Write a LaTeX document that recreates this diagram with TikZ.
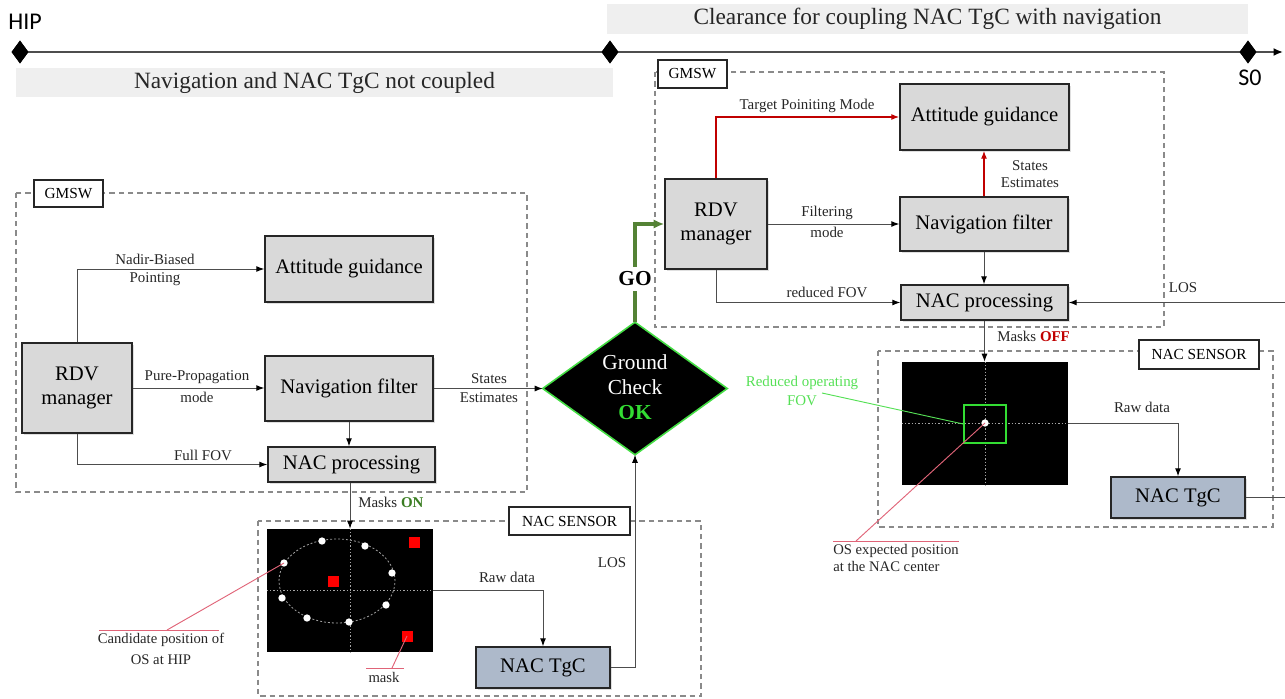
\documentclass[tikz,border=0pt]{standalone}
\usepackage{fontspec}
\setmainfont{Liberation Serif}
\newfontfamily\tlfont{Carlito}
\usetikzlibrary{arrows.meta,shapes.geometric,shadows,calc}

\definecolor{boxgray}{HTML}{D9D9D9}
\definecolor{boxedge}{HTML}{262626}
\definecolor{tgcblue}{HTML}{ADB9CA}
\definecolor{linegray}{HTML}{4D4D4D}
\definecolor{txtgray}{HTML}{262626}
\definecolor{barfill}{HTML}{EFEFEF}
\definecolor{zonegray}{HTML}{8A8A8A}
\definecolor{modered}{HTML}{C00000}
\definecolor{gogreen}{HTML}{548235}
\definecolor{okgreen}{HTML}{33DD33}
\definecolor{ongreen}{HTML}{3A7D22}
\definecolor{fovgreen}{HTML}{55E055}
\definecolor{ptrred}{HTML}{E06478}
\definecolor{diamedge}{HTML}{44DD44}
\definecolor{maskred}{HTML}{FF0000}

\begin{document}
\begin{tikzpicture}[x=0.75pt, y=-0.75pt,
  blk/.style={draw=boxedge, line width=1.1pt, fill=boxgray, inner sep=0pt,
    align=center, font=\fontsize{15.5}{17.5}\selectfont,
    drop shadow={shadow xshift=1.2pt, shadow yshift=-1.5pt, opacity=0.25}},
  tgcbox/.style={blk, fill=tgcblue},
  tag/.style={draw=boxedge, line width=0.8pt, fill=white, inner sep=0pt,
    font=\fontsize{11.5}{14}\selectfont},
  zone/.style={draw=zonegray, line width=0.8pt, dash pattern=on 4pt off 3pt},
  bar/.style={fill=barfill, inner sep=0pt, font=\fontsize{17.5}{20}\selectfont, text=txtgray},
  conn/.style={draw=linegray, line width=0.75pt, -{Latex[length=6pt,width=4.5pt,color=black]}},
  plain/.style={draw=linegray, line width=0.75pt},
  redconn/.style={draw=modered, line width=0.9pt, -{Latex[length=6pt,width=4.5pt]}},
  goconn/.style={draw=gogreen, line width=2.3pt, -{Latex[length=8pt,width=7pt]}},
  lbl/.style={font=\fontsize{11.2}{14}\selectfont, align=center, inner sep=0pt, text=txtgray},
  ptr/.style={draw=ptrred, line width=0.7pt},
  tick/.style={diamond, fill=black, inner sep=0pt, minimum width=12.75pt, minimum height=17.25pt},
  cross/.style={draw=gray!70, line width=0.5pt, dash pattern=on 1pt off 1.5pt},
  dotw/.style={circle, fill=white, inner sep=0pt, minimum size=5.5pt},
  sq/.style={fill=maskred, inner sep=0pt, minimum size=8.25pt},
  sensorimg/.style={fill=black, inner sep=0pt, minimum width=124.5pt, minimum height=92.25pt},
]
\useasboundingbox (0,0) rectangle (1285,699);

% ---------- time line ----------
\node[bar, minimum width=480.75pt, minimum height=22.5pt] (barR) at (927.5,19) {Clearance for coupling NAC TgC with navigation};
\node[bar, minimum width=447.75pt, minimum height=21.75pt] (barL) at (314.5,82.5) {Navigation and NAC TgC not coupled};
\coordinate (tlEnd) at (1283,52);
\node[tick] (tkA) at (20,52) {};
\node[tick] (tkB) at (610,52) {};
\node[tick] (tkC) at (1248,52) {};
\draw[draw=linegray, line width=1.5pt, -{Latex[length=7pt,width=6pt,color=black]}] (tkA.center) -- (tlEnd);
\node[tick] at (20,52) {};
\node[tick] at (610,52) {};
\node[tick] at (1248,52) {};
\node[font=\tlfont\fontsize{18}{20}\selectfont] (hip) at (25,22) {HIP};
\node[font=\tlfont\fontsize{18}{20}\selectfont] (szero) at (1250,78) {S0};

% ---------- dashed zones ----------
\draw[zone] (16,193) rectangle (527,492);
\draw[zone] (655,72) rectangle (1164,327);
\draw[zone] (258,521) rectangle (701,696);
\draw[zone] (878,351) rectangle (1273,527);
\node[tag, minimum width=51.75pt, minimum height=20.25pt] (gmswL) at (68.5,193.5) {GMSW};
\node[tag, minimum width=51.75pt, minimum height=21pt] (gmswR) at (692.5,74) {GMSW};
\node[tag, minimum width=90.75pt, minimum height=21pt] (sensL) at (569.5,521) {NAC SENSOR};
\node[tag, minimum width=90pt, minimum height=21.75pt] (sensR) at (1199,354.5) {NAC SENSOR};

% ---------- left software blocks ----------
\node[blk, minimum width=126pt, minimum height=49.5pt] (agL) at (349,269) {Attitude guidance};
\node[blk, minimum width=82.5pt, minimum height=67.5pt] (rdvL) at (77,388) {RDV\\manager};
\node[blk, minimum width=126pt, minimum height=48.75pt] (nfL) at (349,388.5) {Navigation filter};
\node[blk, minimum width=125.25pt, minimum height=26.25pt] (npL) at (351.5,464.5) {NAC processing};

\draw[conn] (rdvL.north) |- (agL.west);
\draw[conn] (rdvL.east) -- (rdvL.east -| nfL.west);
\draw[conn] (rdvL.south) |- (npL.west);
\draw[conn] (nfL.south) -- (nfL.south |- npL.north);

\node[lbl, anchor=south] at (155,265) {Nadir-Biased};
\node[lbl, anchor=north] at (155,272) {Pointing};
\node[lbl, anchor=south] at (197,384) {Pure-Propagation};
\node[lbl, anchor=north] at (197,392) {mode};
\node[lbl] at (203,455) {Full FOV};

% ---------- right software blocks ----------
\node[blk, minimum width=126.75pt, minimum height=49.5pt] (agR) at (984.5,117) {Attitude guidance};
\node[blk, minimum width=76.5pt, minimum height=67.5pt] (rdvR) at (716,224) {RDV\\manager};
\node[blk, minimum width=126pt, minimum height=40.5pt] (nfR) at (984,224) {Navigation filter};
\node[blk, minimum width=125.25pt, minimum height=26.25pt] (npR) at (984.5,302.5) {NAC processing};

\draw[redconn] (rdvR.north) |- (agR.west);
\draw[redconn] (nfR.north) -- (nfR.north |- agR.south);
\draw[conn] (rdvR.east) -- (rdvR.east -| nfR.west);
\draw[conn] (rdvR.south) |- (npR.west);
\draw[conn] (nfR.south) -- (nfR.south |- npR.north);
\coordinate (losR) at (1285,302.5);
\draw[conn] (losR) -- (npR.east);

\node[lbl] at (807,106) {Target Poiniting Mode};
\node[lbl, anchor=south] at (1030,171) {States};
\node[lbl, anchor=north] at (1030,177) {Estimates};
\node[lbl, anchor=south] at (827,220) {Filtering};
\node[lbl, anchor=north] at (827,227) {mode};
\node[lbl] at (827,292) {reduced FOV};
\node[lbl] at (1183,288) {LOS};

% ---------- ground check ----------
\node[minimum width=138pt, minimum height=99pt, inner sep=0pt] (gc) at (635,388.5) {};
\draw[draw=diamedge, line width=1.2pt, fill=black] (gc.west) -- (gc.north) -- (gc.east) -- (gc.south) -- cycle;
\node[align=center, text=white, font=\fontsize{16}{18.75}\selectfont] (gctxt) at (635,387)
  {Ground\\Check\\\textcolor{okgreen}{\textbf{OK}}};
\draw[conn] (nfL.east) -- (gc.west);
\node[lbl, anchor=south] at (489,384) {States};
\node[lbl, anchor=north] at (489,392) {Estimates};

\draw[goconn] (gc.north) |- (rdvR.west);
\node[fill=white, inner xsep=0.5pt, inner ysep=3.6pt, font=\fontsize{16}{18}\selectfont\bfseries] (go) at (635,279) {GO};

% ---------- left sensor ----------
\node[sensorimg] (imgL) at (350,590.5) {};
\draw[cross] (imgL.north) -- (imgL.south);
\draw[cross] (imgL.west) -- (imgL.east);
\draw[draw=gray!75, line width=0.6pt, dash pattern=on 1.5pt off 1.5pt] (337,581) ellipse [x radius=43.5pt, y radius=31.5pt];
\node[dotw] (c1) at (284,563) {};
\node[dotw] (c2) at (322,541) {};
\node[dotw] (c3) at (365,546) {};
\node[dotw] (c4) at (392,573) {};
\node[dotw] (c5) at (386,605) {};
\node[dotw] (c6) at (349,622) {};
\node[dotw] (c7) at (307,618) {};
\node[dotw] (c8) at (282,598) {};
\node[sq] (m1) at (414,542) {};
\node[sq] (m2) at (333,581) {};
\node[sq] (m3) at (407,636) {};

\draw[conn] (npL.south -| imgL.north) -- (imgL.north);
\node[lbl, anchor=west] at (358,502) {Masks \textcolor{ongreen}{\textbf{ON}}};

\node[tgcbox, minimum width=100.5pt, minimum height=30.75pt] (tgcL) at (543,667.5) {NAC TgC};
\draw[conn] (imgL.east) -| (tgcL.north);
\node[lbl] at (507,577) {Raw data};
\draw[conn] (tgcL.east) -| (gc.south);
\node[lbl] at (612,563) {LOS};

\coordinate (candK) at (167,630);
\coordinate (candA) at (99,630);
\coordinate (candB) at (219,630);
\draw[ptr] (c1.center) -- (candK);
\draw[ptr] (candA) -- (candB);
\node[lbl, font=\fontsize{11}{16}\selectfont] at (161,649) {Candidate position of\\OS at HIP};

\coordinate (maskK) at (392,668);
\coordinate (maskA) at (366,668);
\coordinate (maskB) at (404,668);
\draw[ptr] (m3.center) -- (maskK);
\draw[ptr] (maskA) -- (maskB);
\node[lbl, font=\fontsize{11}{14}\selectfont] at (384,677) {mask};

% ---------- right sensor ----------
\node[sensorimg] (imgR) at (985,423.5) {};
\draw[cross] (imgR.north) -- (imgR.south);
\draw[cross] (imgR.west) -- (imgR.east);
\node[draw=okgreen, line width=1.3pt, inner sep=0pt, minimum width=31.5pt, minimum height=28.5pt] (fovR) at (985,424) {};
\node[dotw] (osR) at (985,423) {};

\draw[conn] (npR.south) -- (npR.south |- imgR.north);
\node[lbl, anchor=west] at (997,336) {Masks \textcolor{modered}{\textbf{OFF}}};

\node[tgcbox, minimum width=100.5pt, minimum height=30.75pt] (tgcR) at (1178,497.5) {NAC TgC};
\draw[conn] (imgR.east) -| (tgcR.north);
\node[lbl] at (1142,407) {Raw data};
\coordinate (tgcOut) at (1285,497.5);
\draw[plain] (tgcR.east) -- (tgcOut);

\coordinate (fovK) at (822,393);
\draw[draw=fovgreen, line width=0.7pt] (fovK) -- (fovR.west);
\node[lbl, text=fovgreen] at (802,391) {Reduced operating\\FOV};

\coordinate (osK) at (856,541);
\coordinate (osA) at (833,541);
\coordinate (osB) at (959,541);
\draw[ptr] (osR.center) -- (osK);
\draw[ptr] (osA) -- (osB);
\node[lbl, font=\fontsize{11}{13}\selectfont, align=left, anchor=north west] at (833,544) {OS expected position\\at the NAC center};
\end{tikzpicture}
\end{document}
